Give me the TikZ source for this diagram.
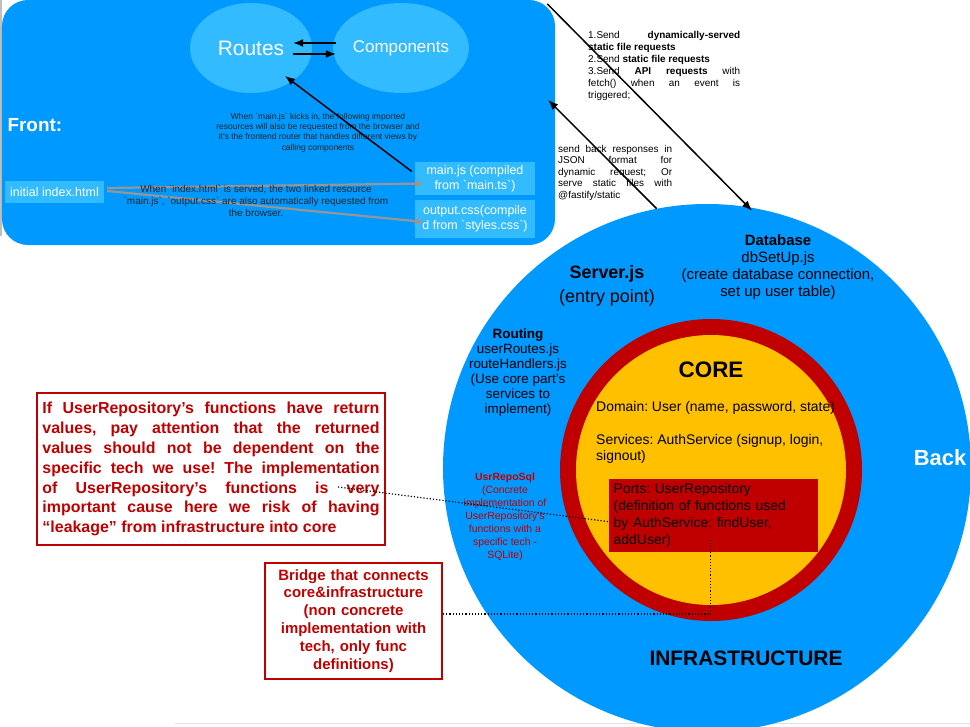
\documentclass[tikz,border=0pt]{standalone}
\usepackage{fontspec}
\setmainfont{Liberation Sans}
\usetikzlibrary{shapes.geometric,calc,arrows.meta}
\definecolor{frontblue}{RGB}{0,153,255}
\definecolor{bubbleblue}{RGB}{51,187,255}
\definecolor{ringred}{RGB}{192,0,0}
\definecolor{coreyellow}{RGB}{255,192,0}
\definecolor{arrgrey}{RGB}{150,150,150}
\newcommand{\setfs}[2]{\fontsize{#1}{#2}\selectfont}
\newcommand{\bq}{\textasciigrave}
\frenchspacing

\begin{document}
\begin{tikzpicture}[x=1bp,y=-1bp,>={Latex[length=10bp,width=8bp]},
  bubble/.style={ellipse,fill=bubbleblue,minimum width=122bp,minimum height=90bp,text=white,inner sep=0pt},
  filebox/.style={fill=bubbleblue,text=white,align=center,inner sep=0pt,font=\setfs{12.5}{15}},
  blackarrow/.style={->,line width=1.5pt},
  greyarrow/.style={->,arrgrey,line width=2.2pt},
  dotline/.style={dotted,line width=1.2pt},
  redbox/.style={draw=ringred,line width=2bp,fill=white,text=ringred,inner sep=5.5bp}]
      \useasboundingbox (0,0) rectangle (970,727);
      \fill[black!25] (0,0) rectangle (2,236);
      \draw[black!12,line width=1bp] (175,723) -- (970,723);

      \node[fill=frontblue,rounded corners=26bp,minimum width=553bp,minimum height=245bp,inner sep=0pt] (front) at (278.5,122.5) {};
      \node[anchor=west,text=white,font=\bfseries\setfs{19}{22}] (frontlbl) at (4,125) {Front:};
      \node[bubble,font=\setfs{21}{24}] (routes) at (251,48) {Routes};
      \node[bubble,font=\setfs{17}{20}] (comps) at (401,48) {Components};
      \node[filebox,minimum width=99bp,minimum height=22bp] (index) at (54.5,192) {initial index.html};
      \node[filebox,minimum width=120bp,minimum height=33bp] (mainjs) at (475,178.5) {main.js (compiled\\ from \bq main.ts\bq)};
      \node[filebox,minimum width=120bp,minimum height=38bp] (outcss) at (475,219) {output.css(compile\\d from \bq styles.css\bq)};

      \path[greyarrow]
      ($(index.east)+(3,-4)$) edge ($(mainjs.west)+(10,5)$)
      ($(index.east)+(3,-1)$) edge ($(outcss.west)+(10,3)$);
      \node[align=center,text=black!85,font=\setfs{10}{11.8}] (idxnote) at (256,201) {When \bq index.html\bq\ is served, the two linked resource\\ \bq main.js\bq, \bq output.css\bq\ are also automatically requested from\\ the browser.};
      \node[align=center,text=black!85,font=\setfs{8.5}{10.4}] (mainnote) at (318,132.5) {When \bq main.js\bq\ kicks in, the following imported\\ resources will also be requested from the browser and\\ it's the frontend router that handles different views by\\ calling components};

      \path[blackarrow]
      ($(comps.west)+(3,-5)$) edge ($(routes.east)+(-19,-5)$)
      ($(routes.east)+(-19,6)$) edge ($(comps.west)+(3,6)$)
      ($(mainjs.west)+(-3,-7)$) edge ($(routes.center)+(34,28)$);

      \node[anchor=north west,inner sep=0pt,text width=152bp,align=justify,font=\setfs{10}{12}] (sendnote) at (588,31) {1.Send \textbf{dynamically-served}\linebreak \textbf{static file requests}\\ 2.Send \textbf{static file requests}\\ 3.Send \textbf{API requests} with\linebreak fetch() when an event is\linebreak triggered;};
      \node[anchor=north west,inner sep=0pt,text width=114bp,align=justify,font=\setfs{10}{11.5}] (replynote) at (558,145) {send back responses in\linebreak JSON format for\linebreak dynamic request; Or\linebreak serve static files with\linebreak @fastify/static};

      \node[circle,fill=frontblue,minimum size=528bp,inner sep=0pt] (back) at (707,468) {};
      \node[circle,fill=ringred,minimum size=302bp,inner sep=0pt] (ring) at (711,470) {};
      \node[circle,fill=coreyellow,minimum size=270bp,inner sep=0pt] (core) at (711,470) {};

      \node[align=center,font=\setfs{18}{24}] (server) at (607,286) {\textbf{Server.js}\\ (entry point)};
      \node[align=center,font=\setfs{15}{17}] (db) at (778,267.5) {\textbf{Database}\\ dbSetUp.js\\ (create database connection,\\ set up user table)};
      \node[align=center,font=\setfs{13.5}{15}] (routing) at (518,372.5) {\textbf{Routing}\\ userRoutes.js\\ routeHandlers.js\\ (Use core part's\\ services to\\ implement)};
      \node[font=\bfseries\setfs{22.5}{26}] (corelbl) at (711,370) {CORE};
      \node[anchor=north west,inner sep=0pt,align=left,font=\setfs{14}{16}] (domain) at (596,401) {Domain: User (name, password, state)\\[17bp] Services: AuthService (signup, login,\\ signout)};
      \node[anchor=north west,fill=ringred,text width=200bp,minimum height=73bp,inner sep=4.5bp,align=left,font=\setfs{14}{17}] (ports) at (609,479) {Ports: UserRepository\\ (definition of functions used\\ by AuthService: findUser,\\ addUser)};
      \node[text=white,font=\bfseries\setfs{22}{26}] (backlbl) at (940,458) {Back};
      \node[font=\bfseries\setfs{21}{24}] (infra) at (746,658) {INFRASTRUCTURE};
      \node[align=center,text=ringred,font=\setfs{10.5}{13}] (reposql) at (505,517) {\textbf{UsrRepoSql}\\ (Concrete\\ implementation of\\ UserRepository's\\ functions with a\\ specific tech -\\ SQLite)};

      \node[redbox,text width=337bp,align=justify,minimum height=152bp,font=\bfseries\setfs{16}{20}] (leak) at (211,469) {If UserRepository's functions have return\linebreak values, pay attention that the returned\linebreak values should not be dependent on the\linebreak specific tech we use! The implementation\linebreak of UserRepository's functions is very\linebreak important cause here we risk of having\linebreak ``leakage'' from infrastructure into core};
      \node[redbox,text width=166bp,align=center,minimum height=116bp,font=\bfseries\setfs{15}{18}] (bridge) at (353.5,621) {Bridge that connects\\ core\&infrastructure\\ (non concrete\\ implementation with\\ tech, only func\\ definitions)};

      \draw[dotline] ($(leak.east)+(-48,18)$) -- ($(ports.west)+(0,6)$);
      \draw[dotline] ($(bridge.east)+(0,-7)$) -| ($(ports.south)+(-3,-12)$);

      \path[blackarrow]
      ($(front.north east)+(-8,4)$) edge ($(db.north)+(-26,-21)$)
      (back.101) edge ($(front.east)+(-7,-22.5)$);
\end{tikzpicture}
\end{document}
